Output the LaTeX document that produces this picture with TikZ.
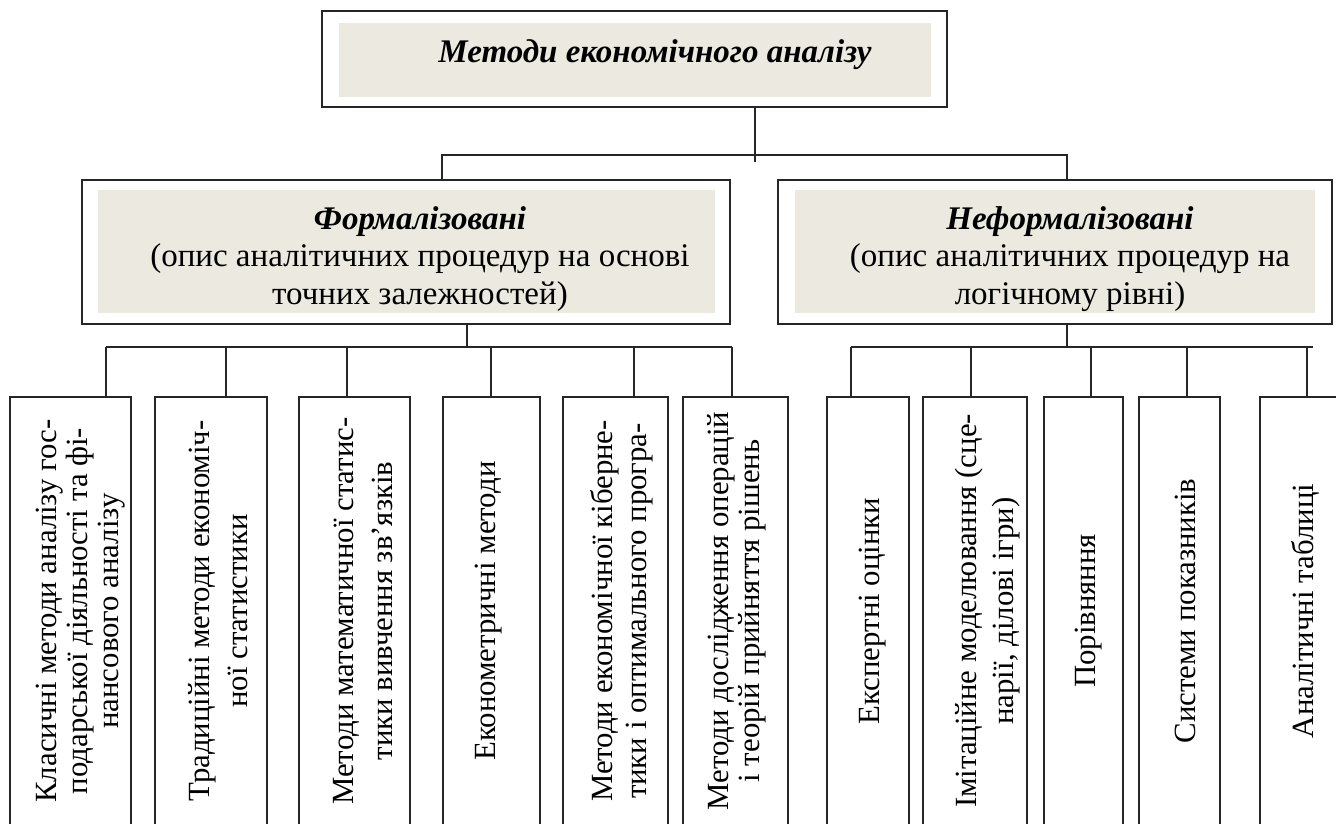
\documentclass[tikz,border=0pt]{standalone}
\usepackage{fontspec}
\setmainfont{Liberation Serif}
\definecolor{panel}{RGB}{236,234,224}
\begin{document}
\begin{tikzpicture}[x=0.5pt,y=-0.5pt,
        frame/.style={draw=black!85, line width=1pt, fill=white, inner sep=0pt},
        panelbg/.style={fill=panel, inner sep=0pt},
        head/.style={font=\fontsize{16.5}{18.75}\selectfont, align=center, inner sep=0pt},
        leaf/.style={draw=black!85, line width=1pt, anchor=north west, minimum height=222pt, inner sep=0pt},
        leaftxt/.style={rotate=90, align=center, inner sep=0pt},
        link/.style={draw=black!85, line width=0.9pt}]
        \useasboundingbox (0,0) rectangle (1336,823);
        \clip (0,0) rectangle (1336,823);

        % top level
        \node[frame, minimum width=312.5pt, minimum height=48pt] (top) at (634.5,59) {};
        \node[panelbg, minimum width=296pt, minimum height=37pt] (topbg) at (635,60) {};
        \node[head, font=\fontsize{16.5}{18.75}\selectfont\bfseries\itshape] (toptxt) at (655,55) {Методи економічного аналізу};

        % second level
        \node[frame, minimum width=324pt, minimum height=72pt] (fml) at (406,252) {};
        \node[panelbg, minimum width=308.5pt, minimum height=61.5pt] (fmlbg) at (406.5,251.5) {};
        \node[head] (fmltxt) at (420,259) {\textbf{\textit{Формалізовані}}\\(опис аналітичних процедур на основі\\точних залежностей)};

        \node[frame, minimum width=277pt, minimum height=72pt] (nfm) at (1055,252) {};
        \node[panelbg, minimum width=260pt, minimum height=61.5pt] (nfmbg) at (1055,251.5) {};
        \node[head] (nfmtxt) at (1070,259) {\textbf{\textit{Неформалізовані}}\\(опис аналітичних процедур на\\логічному рівні)};

        % junctions
        \coordinate (tj) at (755,155);
        \coordinate (tk) at (755,162);
        \coordinate (fj) at (442,155);
        \coordinate (nj) at (1067,155);
        \coordinate (fb) at (467,347);
        \coordinate (nb) at (1067,347);
        \coordinate (j1) at (106,347);
        \coordinate (j2) at (226,347);
        \coordinate (j3) at (347,347);
        \coordinate (j4) at (491,347);
        \coordinate (j5) at (634,347);
        \coordinate (j6) at (732,347);
        \coordinate (j7) at (851,347);
        \coordinate (j8) at (971,347);
        \coordinate (j9) at (1091,347);
        \coordinate (j10) at (1187,347);
        \coordinate (j11) at (1307,347);
        \coordinate (nend) at (1313,347);

        % methods
        \node[leaf, minimum width=60.5pt] (l1) at (9,396) {};
        \node[leaf, minimum width=56pt] (l2) at (154,396) {};
        \node[leaf, minimum width=55.5pt] (l3) at (298,396) {};
        \node[leaf, minimum width=48.5pt] (l4) at (442,396) {};
        \node[leaf, minimum width=52.5pt] (l5) at (562,396) {};
        \node[leaf, minimum width=52.5pt] (l6) at (682,396) {};
        \node[leaf, minimum width=41pt] (l7) at (826,396) {};
        \node[leaf, minimum width=52pt] (l8) at (922,396) {};
        \node[leaf, minimum width=39.5pt] (l9) at (1043,396) {};
        \node[leaf, minimum width=40.5pt] (l10) at (1138,396) {};
        \node[leaf, minimum width=45.5pt] (l11) at (1259,396) {};

        \node[leaftxt, font=\fontsize{15.4}{15.5}\selectfont] (t1) at (81,611) {Класичні методи аналізу гос-\\подарської діяльності та фі-\\нансового аналізу};
        \node[leaftxt, font=\fontsize{15.4}{19}\selectfont] (t2) at (218,611) {Традиційні методи економіч-\\ної статистики};
        \node[leaftxt, font=\fontsize{15.4}{19.5}\selectfont] (t3) at (363,611) {Методи математичної статис-\\тики вивчення зв’язків};
        \node[leaftxt, font=\fontsize{15.4}{18}\selectfont] (t4) at (489,611) {Економетричні методи};
        \node[leaftxt, font=\fontsize{15.4}{17}\selectfont] (t5) at (622,611) {Методи економічної кіберне-\\тики і оптимального програ-};
        \node[leaftxt, font=\fontsize{15.4}{15.5}\selectfont] (t6) at (737,611) {Методи дослідження операцій\\і теорій прийняття рішень};
        \node[leaftxt, font=\fontsize{15.4}{18}\selectfont] (t7) at (873,611) {Експертні оцінки};
        \node[leaftxt, font=\fontsize{15.4}{18.5}\selectfont] (t8) at (988,611) {Імітаційне моделювання (сце-\\нарії, ділові ігри)};
        \node[leaftxt, font=\fontsize{15.4}{18}\selectfont] (t9) at (1089,611) {Порівняння};
        \node[leaftxt, font=\fontsize{15.4}{18}\selectfont] (t10) at (1185,611) {Системи показників};
        \node[leaftxt, font=\fontsize{15.4}{18}\selectfont] (t11) at (1305,611) {Аналітичні таблиці};

        % connectors
        \draw[link] (top.south -| tj) -- (tk);
        \draw[link] (fml.north -| fj) -- (fj) -- (nj) -- (nfm.north -| nj);
        \draw[link] (fml.south -| fb) -- (fb);
        \draw[link] (nfm.south -| nb) -- (nb);
        \draw[link] (j1) -- (j6);
        \draw[link] (j7) -- (nend);
        \draw[link] (j1) -- (l1.north -| j1);
        \draw[link] (j2) -- (l2.north -| j2);
        \draw[link] (j3) -- (l3.north -| j3);
        \draw[link] (j4) -- (l4.north -| j4);
        \draw[link] (j5) -- (l5.north -| j5);
        \draw[link] (j6) -- (l6.north -| j6);
        \draw[link] (j7) -- (l7.north -| j7);
        \draw[link] (j8) -- (l8.north -| j8);
        \draw[link] (j9) -- (l9.north -| j9);
        \draw[link] (j10) -- (l10.north -| j10);
        \draw[link] (j11) -- (l11.north -| j11);
    \end{tikzpicture}
\end{document}
